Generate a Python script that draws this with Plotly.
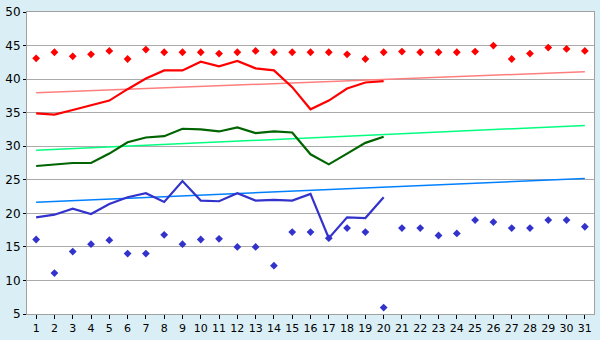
import plotly.graph_objects as go

days = list(range(1, 32))
line_days = list(range(1, 21))

red_points = [43.1, 44.0, 43.4, 43.7, 44.2, 43.0, 44.4, 44.0, 44.0, 44.0,
              43.8, 44.0, 44.2, 44.0, 44.0, 44.0, 44.0, 43.7, 43.0, 44.0,
              44.1, 44.0, 44.0, 44.0, 44.1, 45.0, 43.0, 43.8, 44.7, 44.5, 44.2]
red_line = [34.9, 34.7, 35.4, 36.1, 36.8, 38.5, 40.1, 41.3, 41.3, 42.6,
            41.9, 42.7, 41.6, 41.3, 38.8, 35.5, 36.8, 38.6, 39.5, 39.7]
green_line = [27.05, 27.3, 27.5, 27.5, 28.9, 30.6, 31.3, 31.5, 32.6, 32.5,
              32.2, 32.8, 31.95, 32.2, 32.05, 28.8, 27.3, 28.9, 30.5, 31.4]
blue_line = [19.4, 19.8, 20.7, 19.9, 21.4, 22.4, 23.0, 21.7, 24.8, 21.9,
             21.8, 23.0, 21.9, 22.0, 21.9, 22.9, 16.3, 19.4, 19.3, 22.4]
blue_points = [16.1, 11.1, 14.3, 15.4, 16.0, 14.0, 14.0, 16.8, 15.4, 16.1,
               16.2, 15.0, 15.0, 12.2, 17.2, 17.2, 16.3, 17.8, 17.2, 5.95,
               17.8, 17.8, 16.7, 17.0, 19.0, 18.7, 17.8, 17.8, 19.0, 19.0, 18.0]
trend_days = [1, 31]
red_trend = [37.96, 41.1]
green_trend = [29.4, 33.1]
blue_trend = [21.67, 25.2]
y_ticks = [5, 10, 15, 20, 25, 30, 35, 40, 45, 50]

fig = go.Figure()
fig.add_trace(go.Scatter(x=trend_days, y=red_trend, mode="lines",
                         line=dict(color="#FF7F7F", width=1.5)))
fig.add_trace(go.Scatter(x=trend_days, y=green_trend, mode="lines",
                         line=dict(color="#00FF7F", width=1.5)))
fig.add_trace(go.Scatter(x=trend_days, y=blue_trend, mode="lines",
                         line=dict(color="#0080FF", width=1.5)))
fig.add_trace(go.Scatter(x=line_days, y=red_line, mode="lines",
                         line=dict(color="#FF0000", width=2.2)))
fig.add_trace(go.Scatter(x=line_days, y=green_line, mode="lines",
                         line=dict(color="#006400", width=2.2)))
fig.add_trace(go.Scatter(x=line_days, y=blue_line, mode="lines",
                         line=dict(color="#3333CC", width=2.2)))
fig.add_trace(go.Scatter(x=days, y=red_points, mode="markers",
                         marker=dict(symbol="diamond", size=6, color="#FF0000")))
fig.add_trace(go.Scatter(x=days, y=blue_points, mode="markers",
                         marker=dict(symbol="diamond", size=6, color="#3333CC")))

fig.update_layout(
    width=600, height=340,
    margin=dict(l=20, r=5, t=5, b=20),
    paper_bgcolor="#DAEFF5",
    plot_bgcolor="#FFFFFF",
    showlegend=False,
    font=dict(family="DejaVu Sans", size=12, color="#000000"),
)
fig.update_xaxes(range=[0.5, 31.5], tickmode="array", tickvals=days,
                 ticktext=[str(d) for d in days], showgrid=False,
                 showline=True, linecolor="#A0A0A0", linewidth=1, mirror=True,
                 ticks="outside", ticklen=4, tickcolor="#000000", zeroline=False,
                 tickfont=dict(size=11))
fig.update_yaxes(range=[5, 50], tickmode="array", tickvals=y_ticks,
                 ticktext=[str(v) for v in y_ticks],
                 showgrid=True, gridcolor="#AAAAAA",
                 gridwidth=1, showline=True, linecolor="#A0A0A0", linewidth=1,
                 mirror=True, ticks="outside", ticklen=3, tickcolor="#000000",
                 zeroline=False, ticklabeloverflow="allow")

fig.write_html("out.html")
